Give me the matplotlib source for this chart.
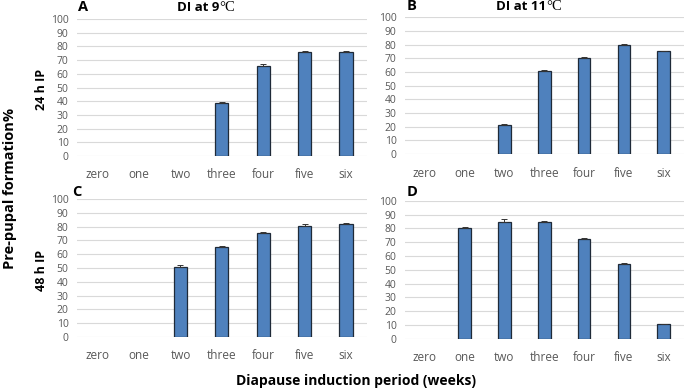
import matplotlib.pyplot as plt
import numpy as np

weeks = ["zero", "one", "two", "three", "four", "five", "six"]

# pre-pupal formation % (A: 9C/24h, B: 11C/24h, C: 9C/48h, D: 11C/48h)
a_vals = [0, 0, 0, 39, 65.5, 76, 76]
a_err = [0, 0, 0, 0.5, 1.5, 0.5, 1]
b_vals = [0, 0, 21, 61, 70, 80, 75]
b_err = [0, 0, 1, 0.5, 1, 0.5, 0.5]
c_vals = [0, 0, 50.5, 65.5, 75, 80.5, 81.5]
c_err = [0, 0, 1.5, 0.5, 1, 1.5, 1]
d_vals = [0, 80.5, 85, 85, 72.5, 54, 10.5]
d_err = [0, 0.5, 1.5, 0.5, 0.5, 1, 0.5]

plt.rcParams["font.family"] = ["Open Sans", "DejaVu Sans"]

fig = plt.figure(figsize=(6.85, 3.9), dpi=100)

panels = [
    ([0.1124, 0.600, 0.423, 0.351], a_vals, a_err),
    ([0.591, 0.605, 0.407, 0.351], b_vals, b_err),
    ([0.1124, 0.136, 0.423, 0.354], c_vals, c_err),
    ([0.591, 0.131, 0.407, 0.354], d_vals, d_err),
]

for pos, vals, err in panels:
    ax = fig.add_axes(pos)
    x = np.arange(len(weeks))
    shown = [v > 0 for v in vals]
    ax.bar(x[shown], np.array(vals)[shown], width=0.32, color="#4f81bd",
           edgecolor="#1f2a38", linewidth=0.9, zorder=3)
    ax.errorbar(x[shown], np.array(vals)[shown], yerr=[np.zeros(sum(shown)), np.array(err)[shown]],
                fmt="none", ecolor="#333333", elinewidth=0.7, capsize=2, capthick=0.7, zorder=4)
    ax.set_xlim(-0.5, len(weeks) - 0.5)
    ax.set_ylim(0, 100)
    ax.set_yticks(range(0, 101, 10))
    ax.set_xticks(x)
    ax.set_xticklabels(weeks)
    ax.grid(axis="y", color="#d9d9d9", linewidth=0.8, zorder=0)
    ax.set_axisbelow(True)
    for s in ax.spines.values():
        s.set_visible(False)
    ax.tick_params(axis="y", length=0, pad=6, labelsize=7.5, labelcolor="#595959")
    ax.tick_params(axis="x", length=0, pad=9, labelsize=8.5, labelcolor="#595959")

# panel letters
fig.text(0.114, 0.972, "A", fontsize=10.5, fontweight="bold", ha="left", va="baseline")
fig.text(0.594, 0.974, "B", fontsize=10.5, fontweight="bold", ha="left", va="baseline")
fig.text(0.105, 0.497, "C", fontsize=10.5, fontweight="bold", ha="left", va="baseline")
fig.text(0.594, 0.497, "D", fontsize=10.5, fontweight="bold", ha="left", va="baseline")

fig.text(0.32, 0.972, "DI at 9", fontsize=9.5, fontweight="bold", ha="right", va="baseline")
fig.text(0.32, 0.972, "°C", fontsize=10.5, family="Liberation Serif", ha="left", va="baseline")
fig.text(0.797, 0.974, "DI at 11", fontsize=9.5, fontweight="bold", ha="right", va="baseline")
fig.text(0.797, 0.974, "°C", fontsize=10.5, family="Liberation Serif", ha="left", va="baseline")

fig.text(0.015, 0.518, "Pre-pupal formation%", rotation=90, fontsize=10.5, fontweight="bold",
         ha="center", va="center")
fig.text(0.06, 0.77, "24 h IP", rotation=90, fontsize=9, fontweight="bold", ha="center", va="center")
fig.text(0.06, 0.307, "48 h IP", rotation=90, fontsize=9, fontweight="bold", ha="center", va="center")
fig.text(0.52, 0.022, "Diapause induction period (weeks)", fontsize=10, fontweight="bold",
         ha="center", va="center")

fig.savefig("out.png", dpi=100)
